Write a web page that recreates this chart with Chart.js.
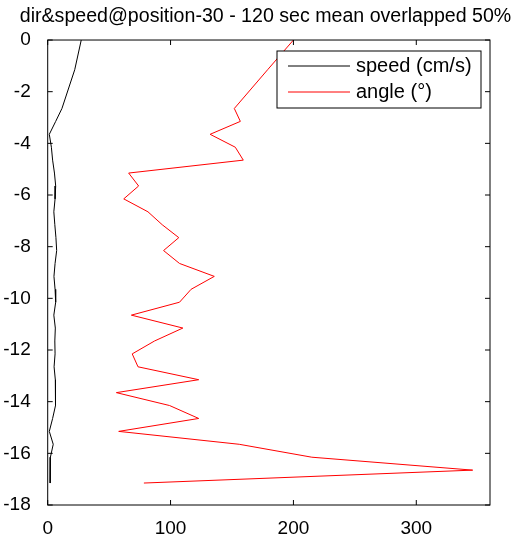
<!DOCTYPE html>
<html>
<head>
<meta charset="utf-8">
<script src="https://cdn.jsdelivr.net/npm/chart.js@4"></script>
<style>
  html, body { margin: 0; padding: 0; background: #fff; }
  #wrap { width: 531px; height: 537px; }
</style>
</head>
<body>
<div id="wrap"><canvas id="chart"></canvas></div>
<script>
// depth of each bin (m), shared by both profiles
const depth = [0, -1.15, -2.65, -3.15, -3.65, -4.15, -4.65, -5.15, -5.65, -6.15,
    -6.65, -7.15, -7.65, -8.15, -8.65, -9.15, -9.65, -10.15, -10.65, -11.15,
    -11.65, -12.15, -12.65, -13.15, -13.65, -14.15, -14.65, -15.15, -15.65, -16.15,
    -16.65, -17.15];

// mean speed per bin (cm/s)
const speed = [27.3, 22.0, 11.6, 6.5, 1.3, 3.0, 4.0, 5.5, 6.5, 6.0,
    5.0, 5.8, 6.7, 7.3, 6.0, 5.1, 6.0, 6.5, 5.0, 6.2,
    5.8, 6.0, 5.2, 6.2, 6.7, 6.0, 4.0, 1.3, 4.5, 2.2,
    2.0, 2.0];

// mean direction per bin (degrees)
const angle = [200, 179, 151.9, 156.8, 132.2, 152.7, 159.2, 65.9, 74, 61.9,
    81.6, 93.2, 106.7, 94.3, 107.3, 135.6, 116.7, 107.3, 68.1, 110,
    87, 68.8, 73.5, 122.9, 55.9, 99.2, 122.9, 57.8, 155.9, 215,
    345.9, 78.3];

const xTicks = [0, 100, 200, 300];
const yTicks = [0, -2, -4, -6, -8, -10, -12, -14, -16, -18];

const FONT = 'Liberation Sans, Arial, sans-serif';

const toPoints = (xs) => xs.map((v, i) => ({ x: v, y: depth[i] }));

// box around the axes with inward ticks on all four sides, plus the legend box
const axesBox = {
    id: 'axesBox',
    afterDatasetsDraw(chart) {
        const { ctx, chartArea: a, scales } = chart;
        const len = 5;
        ctx.save();
        ctx.strokeStyle = '#000';
        ctx.lineWidth = 1;
        ctx.strokeRect(a.left, a.top, a.right - a.left, a.bottom - a.top);
        ctx.beginPath();
        xTicks.forEach(v => {
            const px = scales.x.getPixelForValue(v);
            ctx.moveTo(px, a.bottom); ctx.lineTo(px, a.bottom - len);
            ctx.moveTo(px, a.top); ctx.lineTo(px, a.top + len);
        });
        yTicks.forEach(v => {
            const py = scales.y.getPixelForValue(v);
            ctx.moveTo(a.left, py); ctx.lineTo(a.left + len, py);
            ctx.moveTo(a.right, py); ctx.lineTo(a.right - len, py);
        });
        ctx.stroke();

        // legend
        const lx = 277, ly = 51, lw = 204, lh = 57;
        ctx.fillStyle = '#fff';
        ctx.fillRect(lx, ly, lw, lh);
        ctx.strokeRect(lx, ly, lw, lh);
        ctx.font = '20px ' + FONT;
        ctx.textBaseline = 'middle';
        chart.data.datasets.forEach((ds, i) => {
            const y = ly + 15 + i * 26;
            ctx.strokeStyle = ds.borderColor;
            ctx.beginPath();
            ctx.moveTo(288, y); ctx.lineTo(350, y);
            ctx.stroke();
            ctx.fillStyle = '#000';
            ctx.fillText(ds.label, 356, y);
        });
        ctx.restore();
    }
};

const chart = new Chart(document.getElementById('chart'), {
    type: 'scatter',
    data: {
        datasets: [
            {
                label: 'speed (cm/s)',
                data: toPoints(speed),
                showLine: true,
                borderColor: '#000',
                borderWidth: 1,
                pointRadius: 0,
                tension: 0
            },
            {
                label: 'angle (\u00B0)',
                data: toPoints(angle),
                showLine: true,
                borderColor: '#ff0000',
                borderWidth: 1,
                pointRadius: 0,
                tension: 0
            }
        ]
    },
    options: {
        responsive: true,
        maintainAspectRatio: false,
        animation: false,
        layout: { padding: 0 },
        plugins: {
            legend: { display: false },
            tooltip: { enabled: false },
            title: {
                display: true,
                text: 'dir&speed@position-30 - 120 sec mean overlapped 50%',
                color: '#000',
                font: { family: FONT, size: 19.6, weight: 'normal', lineHeight: 1.2 },
                padding: { top: 5, bottom: 11.5 }
            }
        },
        scales: {
            x: {
                type: 'linear',
                min: 0,
                max: 360,
                afterBuildTicks: (s) => { s.ticks = xTicks.map(v => ({ value: v })); },
                afterFit: (s) => { s.height = 32; },
                grid: { display: false },
                border: { display: false },
                ticks: { color: '#000', padding: 4, font: { family: FONT, size: 19 } }
            },
            y: {
                type: 'linear',
                min: -18,
                max: 0,
                afterBuildTicks: (s) => { s.ticks = yTicks.map(v => ({ value: v })); },
                afterFit: (s) => { s.width = 47.7; },
                grid: { display: false },
                border: { display: false },
                ticks: { color: '#000', padding: 9, font: { family: FONT, size: 19 } }
            },
            // empty margin on the right side of the box
            yRight: {
                type: 'linear',
                position: 'right',
                min: -18,
                max: 0,
                afterFit: (s) => { s.width = 41; },
                grid: { display: false },
                border: { display: false },
                ticks: { display: false }
            }
        }
    },
    plugins: [axesBox]
});
</script>
</body>
</html>
